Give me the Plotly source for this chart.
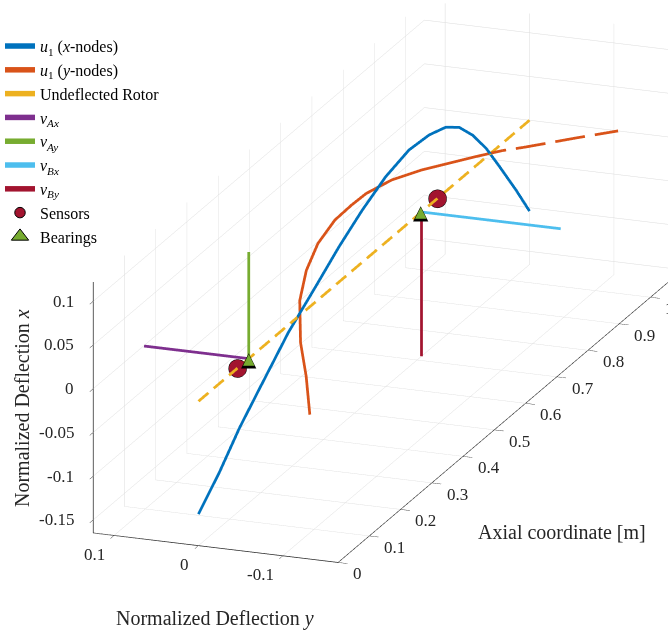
import math
import plotly.graph_objects as go

# ---- rotor / mode-shape data ------------------------------------------
rotor_length = 1.06

# first mode, deflection in x (vertical) at the x-nodes
u1x_axial = [0.0, 0.066, 0.132, 0.20, 0.288, 0.374, 0.449, 0.524, 0.599,
             0.674, 0.739, 0.792, 0.835, 0.878, 0.921, 0.964, 1.017, 1.06]
u1x_defl = [-0.129, -0.102, -0.070, -0.043, -0.0085, 0.017, 0.040, 0.0595,
            0.075, 0.083, 0.0806, 0.0733, 0.060, 0.038, 0.010, -0.024,
            -0.067, -0.104]

# first mode, deflection in y at the y-nodes
u1y_axial = [0.0, 0.126, 0.235, 0.373, 0.475, 0.569, 0.653, 0.709, 0.753,
             0.808, 0.853, 0.886, 0.919, 0.949, 0.968, 0.986, 1.02, 1.06]
u1y_defl = [-0.132, -0.081, -0.034, 0.018, 0.048, 0.069, 0.080, 0.081,
            0.080, 0.070, 0.051, 0.031, 0.011, -0.009, -0.027, -0.042,
            -0.070, -0.105]
u1y_dash_from = 12   # index where the drawn line switches to dashes

sensor_axial = [0.125, 0.765]
bearing_axial = [0.161, 0.714]

# bearing displacement vectors
v_Ax = 0.124
v_Ay = 0.122
v_Bx = -0.165
v_By = -0.165

axial_ticks = [0, 0.1, 0.2, 0.3, 0.4, 0.5, 0.6, 0.7, 0.8, 0.9, 1.0]
axial_labels = ["0", "0.1", "0.2", "0.3", "0.4", "0.5", "0.6", "0.7", "0.8", "0.9", "1"]
y_ticks = [-0.1, 0, 0.1]
y_labels = ["-0.1", "0", "0.1"]
x_ticks = [-0.15, -0.1, -0.05, 0, 0.05, 0.1]
x_labels = ["-0.15", "-0.1", "-0.05", "0", "0.05", "0.1"]

axial_range = [0, 1.06]
y_range = [-0.1655, 0.1246]
x_range = [-0.165, 0.122]

# ---- colours ------------------------------------------------------------
C_BLUE = "#0072BD"
C_ORANGE = "#D95319"
C_YELLOW = "#EDB120"
C_PURPLE = "#7E2F8E"
C_GREEN = "#77AC30"
C_LBLUE = "#4DBEEE"
C_DRED = "#A2142F"
C_AXIS = "#262626"

SERIF = "Liberation Serif, Times New Roman, serif"
LW = 5.5

# approximate on-screen pixels per data unit along (axial, y, x) for dashing
PX_PER_UNIT = (408.0, 857.0, 872.0)


def dash_segments(xs, ys, zs, on, off):
    """Split a polyline into dash pieces (on/off lengths in pixels)."""
    ox, oy, oz = [], [], []
    period = on + off
    done = 0.0
    for i in range(len(xs) - 1):
        p0 = (xs[i], ys[i], zs[i])
        p1 = (xs[i + 1], ys[i + 1], zs[i + 1])
        seg = math.sqrt(sum(((p1[j] - p0[j]) * PX_PER_UNIT[j]) ** 2
                            for j in range(3)))
        t = 0.0
        while t < seg - 1e-9:
            phase = (done + t) % period
            if phase < on:
                step = min(on - phase, seg - t)
                a, b = t / seg, (t + step) / seg
                for f in (a, b):
                    ox.append(p0[0] + f * (p1[0] - p0[0]))
                    oy.append(p0[1] + f * (p1[1] - p0[1]))
                    oz.append(p0[2] + f * (p1[2] - p0[2]))
                ox.append(None)
                oy.append(None)
                oz.append(None)
            else:
                step = min(period - phase, seg - t)
            t += max(step, 1e-9)
        done += seg
    return ox, oy, oz


fig = go.Figure()

fig.add_trace(go.Scatter3d(
    x=u1x_axial, y=[0] * len(u1x_axial), z=u1x_defl, mode="lines",
    line=dict(color=C_BLUE, width=LW),
    name="<i>u</i><sub>1</sub> (<i>x</i>-nodes)"))

k = u1y_dash_from
fig.add_trace(go.Scatter3d(
    x=u1y_axial[:k + 1], y=u1y_defl[:k + 1], z=[0] * (k + 1), mode="lines",
    line=dict(color=C_ORANGE, width=LW), legendgroup="u1y",
    name="<i>u</i><sub>1</sub> (<i>y</i>-nodes)"))
tx, ty, tz = dash_segments(u1y_axial[k:], u1y_defl[k:],
                           [0] * len(u1y_axial[k:]), 24, 8)
fig.add_trace(go.Scatter3d(
    x=tx, y=ty, z=tz, mode="lines", connectgaps=False,
    line=dict(color=C_ORANGE, width=LW), legendgroup="u1y",
    showlegend=False))

rx, ry, rz = dash_segments([0, rotor_length], [0, 0], [0, 0], 13, 7)
fig.add_trace(go.Scatter3d(
    x=rx, y=ry, z=rz, mode="lines", connectgaps=False,
    line=dict(color=C_YELLOW, width=LW),
    name="Undeflected Rotor"))

bA, bB = bearing_axial
fig.add_trace(go.Scatter3d(
    x=[bA, bA], y=[0, v_Ax], z=[0, 0], mode="lines",
    line=dict(color=C_PURPLE, width=LW), name="<i>v<sub>Ax</sub></i>"))
fig.add_trace(go.Scatter3d(
    x=[bA, bA], y=[0, 0], z=[0, v_Ay], mode="lines",
    line=dict(color=C_GREEN, width=LW), name="<i>v<sub>Ay</sub></i>"))
fig.add_trace(go.Scatter3d(
    x=[bB, bB], y=[0, v_Bx], z=[0, 0], mode="lines",
    line=dict(color=C_LBLUE, width=LW), name="<i>v<sub>Bx</sub></i>"))
fig.add_trace(go.Scatter3d(
    x=[bB, bB], y=[0, 0], z=[0, v_By], mode="lines",
    line=dict(color=C_DRED, width=LW), name="<i>v<sub>By</sub></i>"))

fig.add_trace(go.Scatter3d(
    x=sensor_axial, y=[0, 0], z=[0, 0], mode="markers",
    marker=dict(symbol="circle", size=10.5, color=C_DRED,
                line=dict(color="black", width=1)),
    name="Sensors"))

# legend entry for the bearings (the 3D glyphs are scene annotations below)
fig.add_trace(go.Scatter(
    x=[None], y=[None], mode="markers",
    marker=dict(symbol="triangle-up", size=15, color=C_GREEN,
                line=dict(color="black", width=1)),
    name="Bearings"))

# ---- scene annotations: tick labels and bearing glyphs ------------------
# anchors sit a hair inside the axis box so they are not culled
eps = 1e-4
TICKFONT = dict(family=SERIF, size=17, color=C_AXIS)
scene_ann = []
for t, lab in zip(x_ticks, x_labels):
    scene_ann.append(dict(x=eps, y=y_range[1] - eps, z=t, text=lab,
                          showarrow=False, xanchor="right", yanchor="middle",
                          xshift=-17, font=TICKFONT))
for t, lab in zip(y_ticks, y_labels):
    scene_ann.append(dict(x=eps, y=t, z=x_range[0] + eps, text=lab,
                          showarrow=False, xanchor="right", yanchor="middle",
                          xshift=-7, yshift=-19, font=TICKFONT))
for t, lab in zip(axial_ticks, axial_labels):
    scene_ann.append(dict(x=max(t, eps), y=y_range[0] + eps, z=x_range[0] + eps,
                          text=lab, showarrow=False, xanchor="left",
                          yanchor="middle", xshift=13, yshift=-11.5,
                          font=TICKFONT))
for b in bearing_axial:
    scene_ann.append(dict(x=b, y=0, z=0, text="\u25B2", showarrow=False,
                          xanchor="center", yanchor="middle",
                          font=dict(family="DejaVu Sans", size=20, color="black")))
    scene_ann.append(dict(x=b, y=0, z=0, text="\u25B2", showarrow=False,
                          xanchor="center", yanchor="middle",
                          font=dict(family="DejaVu Sans", size=15, color=C_GREEN)))


def axis_style(rng, tickvals):
    return dict(
        range=rng, autorange=False, tickvals=tickvals, showticklabels=False,
        title=dict(text=""), showgrid=True, gridcolor="#dcdcdc", gridwidth=1,
        showline=True, linecolor=C_AXIS, linewidth=1.5,
        ticks="outside", ticklen=10, tickcolor=C_AXIS,
        showbackground=False, zeroline=False, showspikes=False,
    )


# orthographic view: unit viewing direction, camera distance, look-at point
eye_dir = (-0.8867, -0.334, 0.3198)
cam_dist = 4.0
look_at = (-0.0856, 0.1273, -0.1043)
box_scale = 2.968
aspect = (1.0, 0.2785, 0.282)

fig.update_layout(
    width=668, height=633, template="none",
    margin=dict(l=0, r=0, t=0, b=0),
    paper_bgcolor="white", plot_bgcolor="white",
    showlegend=True, hovermode=False,
    legend=dict(x=0, y=0.954, xanchor="left", yanchor="top",
                traceorder="normal", tracegroupgap=0,
                font=dict(family=SERIF, size=16, color="black"),
                bgcolor="rgba(0,0,0,0)", itemwidth=30),
    xaxis=dict(visible=False), yaxis=dict(visible=False),
    scene=dict(
        domain=dict(x=[0, 1], y=[0, 1]),
        xaxis=axis_style(axial_range, axial_ticks),
        yaxis=axis_style(y_range, y_ticks),
        zaxis=axis_style(x_range, x_ticks),
        aspectmode="manual",
        aspectratio=dict(x=aspect[0] * box_scale, y=aspect[1] * box_scale,
                         z=aspect[2] * box_scale),
        camera=dict(
            projection=dict(type="orthographic"),
            up=dict(x=0, y=0, z=1),
            center=dict(x=look_at[0], y=look_at[1], z=look_at[2]),
            eye=dict(x=look_at[0] + eye_dir[0] * cam_dist,
                     y=look_at[1] + eye_dir[1] * cam_dist,
                     z=look_at[2] + eye_dir[2] * cam_dist),
        ),
        annotations=scene_ann,
    ),
    annotations=[
        dict(text="Normalized Deflection <i>x</i>", x=22 / 668, y=1 - 408 / 633,
             xref="paper", yref="paper", xanchor="center", yanchor="middle",
             showarrow=False, textangle=-90,
             font=dict(family=SERIF, size=20, color=C_AXIS)),
        dict(text="Normalized Deflection <i>y</i>", x=215 / 668, y=1 - 618 / 633,
             xref="paper", yref="paper", xanchor="center", yanchor="middle",
             showarrow=False,
             font=dict(family=SERIF, size=20, color=C_AXIS)),
        dict(text="Axial coordinate [m]", x=562 / 668, y=1 - 532 / 633,
             xref="paper", yref="paper", xanchor="center", yanchor="middle",
             showarrow=False,
             font=dict(family=SERIF, size=20, color=C_AXIS)),
    ],
)

fig.write_html("out.html")
